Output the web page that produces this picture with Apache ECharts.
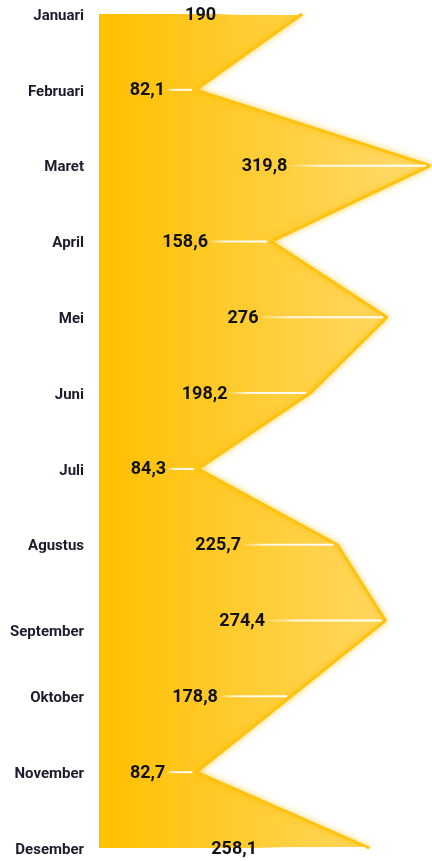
<!DOCTYPE html>
<html lang="en">
  <head>
    <meta charset="UTF-8" />
    <title>Bulanan</title>
    <style type="text/css">
      html, body {
        margin: 0;
        padding: 0;
        background-color: #fff;
      }
      #main {
        width: 432px;
        height: 861px;
      }
    </style>
  </head>
  <body>
    <div id="main"></div>
    <script src="https://cdn.jsdelivr.net/npm/echarts@6/dist/echarts.min.js"></script>
    <script type="text/javascript">
      var months = ["Januari", "Februari", "Maret", "April", "Mei", "Juni", "Juli",
        "Agustus", "September", "Oktober", "November", "Desember"];
      var values = [190, 82.1, 319.8, 158.6, 276, 198.2, 84.3, 225.7, 274.4, 178.8, 82.7, 258.1];

      var xMin = -16;
      var xMax = 321.7;
      var valueFont = "bold 18px Roboto";

      var chartDom = document.getElementById("main");
      var myChart = echarts.init(chartDom);

      var measure = document.createElement("canvas").getContext("2d");
      measure.font = valueFont;

      function fmt(v) {
        return String(v).replace(".", ",");
      }

      // label centred between axis start and point, white line from label to point
      function renderValue(params, api) {
        var i = api.value(0);
        var v = api.value(1);
        var p = api.coord([v, i]);
        var x0 = api.coord([xMin, i])[0];
        var cx = (x0 + p[0]) / 2;
        var txt = fmt(v);
        var w = measure.measureText(txt).width;
        var lx = cx + w / 2 + 2;
        var children = [
          {
            type: "text",
            x: cx,
            y: p[1] + 1,
            style: {
              text: txt,
              font: valueFont,
              fill: "#111",
              align: "center",
              verticalAlign: "middle"
            }
          }
        ];
        if (p[0] - 4 > lx) {
          children.push({
            type: "line",
            shape: { x1: lx, y1: p[1], x2: p[0] - 4, y2: p[1] },
            style: {
              lineWidth: 2,
              stroke: new echarts.graphic.LinearGradient(0, 0, 1, 0, [
                { offset: 0, color: "rgba(255,255,255,0.1)" },
                { offset: 0.25, color: "rgba(255,255,255,0.85)" },
                { offset: 1, color: "rgba(255,255,255,1)" }
              ])
            }
          });
        }
        return { type: "group", children: children };
      }

      var option = {
        animation: false,
        grid: { left: 99, right: 0, top: 14, bottom: 13, containLabel: false },
        xAxis: {
          type: "value",
          min: xMin,
          max: xMax,
          show: false,
          splitLine: { show: false }
        },
        yAxis: {
          type: "category",
          data: months,
          inverse: true,
          boundaryGap: false,
          axisLine: { show: false },
          axisTick: { show: false },
          splitLine: { show: false },
          axisLabel: {
            margin: 15,
            fontFamily: "Roboto",
            fontWeight: "bold",
            fontSize: 15,
            color: "#1c1c2c",
            formatter: function (v) {
              return v === "September" ? "{low|" + v + "}" : "{m|" + v + "}";
            },
            rich: {
              m: {
                fontFamily: "Roboto",
                fontWeight: "bold",
                fontSize: 15,
                color: "#1c1c2c",
                padding: [4, 0, 0, 0]
              },
              low: {
                fontFamily: "Roboto",
                fontWeight: "bold",
                fontSize: 15,
                color: "#1c1c2c",
                padding: [24, 0, 0, 0]
              }
            }
          }
        },
        series: [
          {
            type: "line",
            data: values,
            symbol: "none",
            z: 2,
            lineStyle: {
              color: "#FFC30F",
              width: 3,
              shadowColor: "rgba(255,190,0,0.9)",
              shadowBlur: 6
            },
            areaStyle: {
              origin: "start",
              opacity: 1,
              color: new echarts.graphic.LinearGradient(0, 0, 1, 0, [
                { offset: 0, color: "#FFC000" },
                { offset: 1, color: "#FFDB70" }
              ])
            }
          },
          {
            type: "custom",
            z: 3,
            renderItem: renderValue,
            encode: { x: 1, y: 0 },
            data: values.map(function (v, i) { return [i, v]; })
          }
        ]
      };

      myChart.setOption(option);
    </script>
  </body>
</html>
